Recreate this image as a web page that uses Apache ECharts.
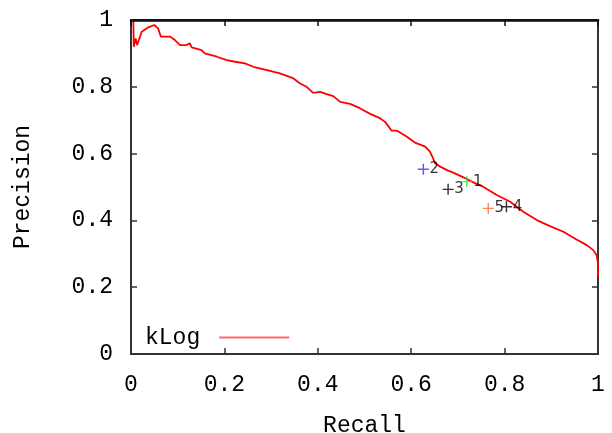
<!DOCTYPE html>
<html>
<head>
<meta charset="utf-8">
<script src="https://cdn.jsdelivr.net/npm/echarts@6/dist/echarts.min.js"></script>
<style>html,body{margin:0;padding:0;background:#fff}#c{width:612px;height:433px}</style>
</head>
<body>
<div id="c"></div>
<script>
// ---- data ----
const recall = [0.000,0.005,0.006,0.010,0.013,0.023,0.037,0.050,0.058,0.064,0.084,0.094,0.105,0.119,0.126,0.130,0.151,0.158,0.184,0.205,0.223,0.244,0.262,0.291,0.319,0.348,0.362,0.376,0.390,0.405,0.419,0.433,0.448,0.469,0.490,0.512,0.533,0.544,0.558,0.569,0.590,0.608,0.630,0.640,0.646,0.651,0.662,0.679,0.690,0.712,0.733,0.754,0.783,0.812,0.840,0.869,0.897,0.926,0.954,0.976,0.990,0.997,1.000,1.000];
const precision = [1.000,1.000,0.920,0.945,0.925,0.965,0.978,0.985,0.975,0.950,0.950,0.940,0.925,0.925,0.930,0.918,0.910,0.900,0.890,0.880,0.875,0.870,0.860,0.850,0.840,0.825,0.810,0.800,0.782,0.785,0.778,0.772,0.755,0.749,0.736,0.719,0.706,0.695,0.669,0.669,0.651,0.633,0.621,0.606,0.589,0.571,0.561,0.549,0.543,0.529,0.514,0.501,0.476,0.456,0.426,0.401,0.383,0.366,0.343,0.326,0.311,0.296,0.272,0.231];
const markerLabels = ['1','2','3','4','5'];
const markerRecall = [0.719,0.626,0.679,0.804,0.765];
const markerPrecision = [0.516,0.553,0.493,0.441,0.436];
const seriesName = 'kLog';

// ---- styles ----
const markerColors = ['#2ee02e','#2f2fff','#000000','#000000','#ff6a2a'];
const mono = 'Liberation Mono';
const axisColor = '#333333';
const FS = 23;

const curve = recall.map((r,i)=>[r,precision[i]]);
const markers = markerRecall.map((r,i)=>({
  value:[r,markerPrecision[i]],
  name: markerLabels[i],
  itemStyle:{color:'rgba(0,0,0,0)',borderColor:markerColors[i],borderWidth:1.4}
}));

const fmt = v => (v===0||v===1)? String(v) : v.toFixed(1);
function axisBase(w, c){
  return {
    type:'value', min:0, max:1, interval:0.2,
    axisLine:{show:true,onZero:false,lineStyle:{color:c||axisColor,width:w}},
    axisTick:{show:true,inside:true,length:6,lineStyle:{color:c||axisColor,width:1.5}},
    splitLine:{show:false}
  };
}

const chart = echarts.init(document.getElementById('c'), null, {renderer:'canvas'});
chart.setOption({
  animation:false,
  backgroundColor:'#fff',
  grid:{left:131,right:14,top:20,bottom:79,containLabel:false,outerBoundsMode:'none',show:true,borderColor:'#222',borderWidth:2,backgroundColor:'rgba(0,0,0,0)'},
  xAxis:[
    Object.assign(axisBase(2), {
      position:'bottom',
      name:'Recall', nameLocation:'middle', nameGap:60,
      nameTextStyle:{fontFamily:mono,fontSize:FS,color:'#000'},
      axisLabel:{show:true,margin:19,fontFamily:mono,fontSize:FS,color:'#000',formatter:fmt,showMinLabel:true,showMaxLabel:true}
    }),
    Object.assign(axisBase(2.5,'#111111'), {position:'top',axisLabel:{show:false},z:10})
  ],
  yAxis:[
    Object.assign(axisBase(2), {
      position:'left',
      name:'Precision', nameLocation:'middle', nameGap:97, nameRotate:90,
      nameTextStyle:{fontFamily:mono,fontSize:FS,color:'#000'},
      axisLabel:{show:true,margin:18,fontFamily:mono,fontSize:FS,color:'#000',formatter:fmt,showMinLabel:true,showMaxLabel:true}
    }),
    Object.assign(axisBase(2), {position:'right',axisLabel:{show:false}})
  ],
  legend:{
    show:true, left:140, top:321, align:'right', orient:'horizontal',
    itemWidth:70, itemHeight:2,
    data:[{name:seriesName, icon:'rect', itemStyle:{color:'#ff6b6b'}, lineStyle:{color:'#ff6b6b'}}],
    textStyle:{fontFamily:mono,fontSize:FS,color:'#000',padding:[0,14,0,0]}
  },
  series:[
    {
      name:seriesName, type:'line', data:curve, showSymbol:false, symbol:'none',
      lineStyle:{color:'#ff0000',width:1.8}, itemStyle:{color:'#ff6b6b'}, z:3
    },
    {
      name:'markers', type:'scatter', data:markers,
      symbol:'path://M0,5L10,5M5,0L5,10', symbolSize:11,
      label:{show:true,position:'right',distance:0,formatter:p=>p.name,fontFamily:'DejaVu Sans',fontSize:15,color:'#000'},
      z:4
    }
  ]
});
</script>
</body>
</html>
